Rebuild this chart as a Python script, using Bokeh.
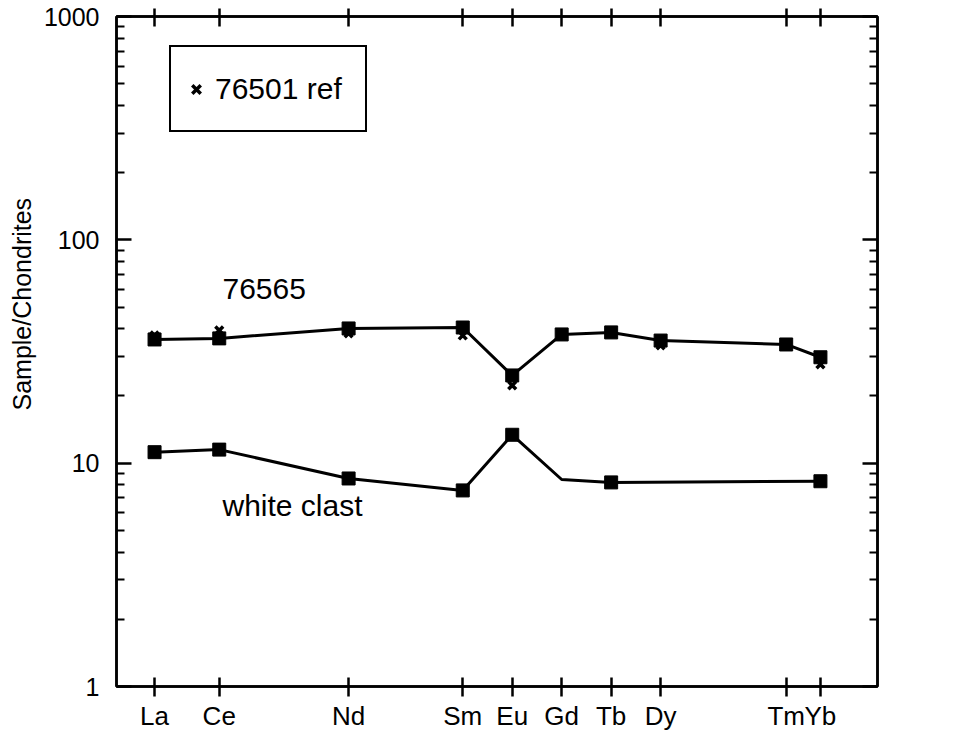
from bokeh.plotting import figure
from bokeh.models import (Range1d, LogAxis, LinearAxis, FixedTicker, Label, Legend, Title,
                          LegendItem, BasicTickFormatter, CustomJSTickFormatter)
from bokeh.embed import file_html
from bokeh.resources import INLINE

# ---------------- data ----------------
elements = ["La", "Ce", "Nd", "Sm", "Eu", "Gd", "Tb", "Dy", "Tm", "Yb"]
ionic_radius = [1.160, 1.143, 1.109, 1.079, 1.066, 1.053, 1.040, 1.027, 0.994, 0.985]

s76565 = [35.8, 36.2, 40.1, 40.5, 24.7, 37.7, 38.5, 35.4, 34.0, 29.8]
ref76501 = [37.3, 39.3, 38.1, 37.3, 22.3, 37.7, 38.5, 33.7, 34.0, 27.7]

clast_elements = ["La", "Ce", "Nd", "Sm", "Eu", "Gd", "Tb", "Yb"]
white_clast = [11.2, 11.5, 8.54, 7.55, 13.4, 8.45, 8.2, 8.3]
clast_marked = ["La", "Ce", "Nd", "Sm", "Eu", "Tb", "Yb"]

y_ticks = [1, 10, 100, 1000]
minor_mult = [2, 3, 4, 5, 6, 7, 8, 9]
# --------------------------------------

FONT = "Liberation Sans"
radius_of = dict(zip(elements, ionic_radius))
clast_x = [radius_of[e] for e in clast_elements]
clast_val = dict(zip(clast_elements, white_clast))
mark_x = [radius_of[e] for e in clast_marked]
mark_y = [clast_val[e] for e in clast_marked]
minor_ticks = [m * t for t in y_ticks[:-1] for m in minor_mult]

p = figure(frame_width=761, frame_height=670,
           x_range=Range1d(1.17, 0.97), y_range=Range1d(1, 1000),
           y_axis_type="log", x_axis_location=None, y_axis_location=None,
           output_backend="svg", toolbar_location=None,
           min_border_left=116, min_border_right=88, min_border_top=16, min_border_bottom=44,
           background_fill_color="white", border_fill_color="white",
           outline_line_color="black", outline_line_width=2.5)
p.grid.visible = False

yticker = FixedTicker(ticks=y_ticks, minor_ticks=minor_ticks)
xticker = FixedTicker(ticks=ionic_radius)

common = dict(axis_line_width=2.5, axis_line_color="black",
              major_tick_line_width=2.5, minor_tick_line_width=2,
              major_tick_line_color="black", minor_tick_line_color="black",
              major_label_text_font=FONT, major_label_text_color="black")

left = LogAxis(ticker=yticker, formatter=BasicTickFormatter(),
               major_tick_in=15, major_tick_out=0, minor_tick_in=8, minor_tick_out=0,
               major_label_standoff=17, major_label_text_font_size="25px", **common)
p.add_layout(left, "left")

# y title, sitting a little above the centre as in the original
p.add_layout(Title(text="Sample/Chondrites", align="left", offset=276, standoff=10,
                   text_font=FONT, text_font_size="25px", text_font_style="normal",
                   text_color="black"), "left")

right = LogAxis(ticker=yticker, formatter=CustomJSTickFormatter(code="return ''"),
                major_tick_in=15, major_tick_out=0, minor_tick_in=8, minor_tick_out=0,
                major_label_standoff=0, major_label_text_font_size="1px", **common)
p.add_layout(right, "right")

names_fmt = CustomJSTickFormatter(args=dict(pos=ionic_radius, names=elements), code="""
const i = pos.findIndex(v => Math.abs(v - tick) < 1e-6);
return i >= 0 ? names[i] : '';
""")
bottom = LinearAxis(ticker=xticker, formatter=names_fmt,
                    major_tick_in=9, major_tick_out=10, minor_tick_in=0, minor_tick_out=0,
                    major_label_standoff=4, major_label_text_font_size="26px", **common)
p.add_layout(bottom, "below")

top = LinearAxis(ticker=xticker, formatter=CustomJSTickFormatter(code="return ''"),
                 major_tick_in=10, major_tick_out=8, minor_tick_in=0, minor_tick_out=0,
                 major_label_standoff=0, major_label_text_font_size="1px", **common)
p.add_layout(top, "above")

# right-hand tick labels, right aligned like the original
for t in y_ticks:
    p.add_layout(Label(x=842, y=t, x_units="screen", y_units="data", text=str(t),
                       text_align="right", text_baseline="middle",
                       text_font=FONT, text_font_size="25px", text_color="black"))

# series
ref_r = p.scatter(ionic_radius, ref76501, marker="x", size=11, line_width=3.5, color="black")
p.line(ionic_radius, s76565, line_width=3, color="black")
p.scatter(ionic_radius, s76565, marker="square", size=13, color="black")

p.line(clast_x, white_clast, line_width=3, color="black")
p.scatter(mark_x, mark_y, marker="square", size=13, color="black")

# annotations
p.add_layout(Label(x=106, y=398, x_units="screen", y_units="screen", text="76565",
                   text_baseline="middle", text_font=FONT, text_font_size="30px",
                   text_color="black"))
p.add_layout(Label(x=106, y=181, x_units="screen", y_units="screen", text="white clast",
                   text_baseline="middle", text_font=FONT, text_font_size="30px",
                   text_color="black"))

legend = Legend(items=[LegendItem(label="76501 ref", renderers=[ref_r])],
                location=(53, 554), padding=10, glyph_width=30, glyph_height=30,
                label_standoff=4, label_width=140, label_height=63,
                label_text_font=FONT, label_text_font_size="30px", label_text_color="black",
                border_line_color="black", border_line_width=2, border_line_alpha=1.0,
                margin=0, background_fill_color="white", background_fill_alpha=1.0)
p.add_layout(legend)

open("out.html", "w").write(file_html(p, INLINE))
